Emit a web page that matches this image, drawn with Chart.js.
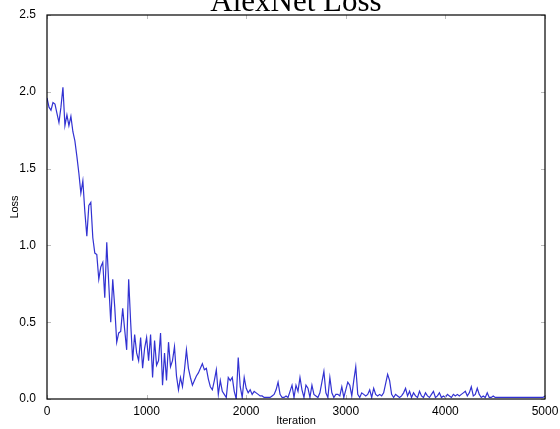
<!DOCTYPE html>
<html>
<head>
<meta charset="utf-8">
<script src="https://cdn.jsdelivr.net/npm/chart.js@4.4.0/dist/chart.umd.min.js"></script>
<style>
  html, body { margin: 0; padding: 0; background: #fff; }
  #wrap { width: 560px; height: 429px; }
</style>
</head>
<body>
<div id="wrap"><canvas id="lossChart" width="560" height="429"></canvas></div>
<script>
var STEP = 20;
var lossValues = [
    1.96, 1.90, 1.88, 1.93, 1.92, 1.86, 1.80, 1.90, 2.03, 1.78,
    1.85, 1.78, 1.84, 1.74, 1.68, 1.58, 1.47, 1.34, 1.42, 1.22,
    1.06, 1.26, 1.28, 1.05, 0.95, 0.94, 0.78, 0.86, 0.89, 0.66,
    1.02, 0.75, 0.50, 0.78, 0.60, 0.37, 0.43, 0.44, 0.59, 0.45,
    0.32, 0.78, 0.50, 0.25, 0.42, 0.30, 0.25, 0.40, 0.20, 0.33,
    0.40, 0.25, 0.42, 0.14, 0.38, 0.22, 0.25, 0.43, 0.09, 0.30,
    0.12, 0.37, 0.21, 0.25, 0.34, 0.15, 0.06, 0.14, 0.08, 0.19,
    0.32, 0.20, 0.14, 0.09, 0.12, 0.15, 0.17, 0.20, 0.23, 0.19,
    0.20, 0.13, 0.08, 0.06, 0.12, 0.19, 0.03, 0.12, 0.05, 0.03,
    0.01, 0.14, 0.12, 0.14, 0.05, 0.00, 0.27, 0.08, 0.01, 0.14,
    0.07, 0.04, 0.06, 0.03, 0.05, 0.04, 0.03, 0.02, 0.02, 0.01,
    0.01, 0.01, 0.01, 0.02, 0.03, 0.06, 0.11, 0.03, 0.01, 0.01,
    0.02, 0.01, 0.05, 0.09, 0.01, 0.09, 0.05, 0.14, 0.06, 0.01,
    0.09, 0.07, 0.01, 0.09, 0.03, 0.02, 0.01, 0.04, 0.11, 0.18,
    0.04, 0.01, 0.14, 0.04, 0.01, 0.03, 0.03, 0.02, 0.08, 0.01,
    0.06, 0.11, 0.09, 0.02, 0.12, 0.21, 0.03, 0.01, 0.04, 0.03,
    0.02, 0.03, 0.06, 0.01, 0.07, 0.03, 0.02, 0.03, 0.02, 0.04,
    0.10, 0.16, 0.12, 0.03, 0.01, 0.03, 0.02, 0.01, 0.02, 0.04,
    0.07, 0.02, 0.05, 0.01, 0.04, 0.02, 0.01, 0.05, 0.02, 0.01,
    0.04, 0.02, 0.01, 0.03, 0.05, 0.01, 0.02, 0.04, 0.01, 0.02,
    0.01, 0.03, 0.02, 0.01, 0.03, 0.02, 0.03, 0.02, 0.03, 0.04,
    0.05, 0.02, 0.04, 0.08, 0.02, 0.03, 0.07, 0.03, 0.01, 0.02,
    0.01, 0.04, 0.01, 0.01, 0.02, 0.01, 0.01, 0.01, 0.01, 0.01,
    0.01, 0.01, 0.01, 0.01, 0.01, 0.01, 0.01, 0.01, 0.01, 0.01,
    0.01, 0.01, 0.01, 0.01, 0.01, 0.01, 0.01, 0.01, 0.01, 0.01,
    0.02
];
var iterations = lossValues.map(function (v, i) { return i * STEP; });
var xTicks = [0, 1000, 2000, 3000, 4000, 5000];
var yTicks = [0.0, 0.5, 1.0, 1.5, 2.0, 2.5];
var chartTitle = "AlexNet Loss";

var points = iterations.map(function (it, i) { return { x: it, y: lossValues[i] }; });

// matplotlib-ish frame, inward ticks and clipped title
var framePlugin = {
    id: "frame",
    afterDraw: function (chart) {
        var c = chart.ctx, a = chart.chartArea;
        var xs = chart.scales.x, ys = chart.scales.y;
        c.save();
        c.strokeStyle = "#bbbbbb";
        c.lineWidth = 1;
        xTicks.forEach(function (t) {
            var px = Math.round(xs.getPixelForValue(t)) + 0.5;
            c.beginPath();
            c.moveTo(px, a.bottom); c.lineTo(px, a.bottom - 4);
            c.moveTo(px, a.top); c.lineTo(px, a.top + 4);
            c.stroke();
        });
        yTicks.forEach(function (t) {
            var py = Math.round(ys.getPixelForValue(t)) + 0.5;
            c.beginPath();
            c.moveTo(a.left, py); c.lineTo(a.left + 4, py);
            c.moveTo(a.right, py); c.lineTo(a.right - 4, py);
            c.stroke();
        });
        c.strokeStyle = "#000";
        c.lineWidth = 1.2;
        c.strokeRect(a.left, a.top, a.right - a.left, a.bottom - a.top);
        c.fillStyle = "#000";
        c.font = "31px 'Liberation Serif'";
        c.textAlign = "center";
        c.textBaseline = "alphabetic";
        c.fillText(chartTitle, (a.left + a.right) / 2, 11);
        c.restore();
    }
};

var ctx = document.getElementById("lossChart").getContext("2d");
var chart = new Chart(ctx, {
    type: "line",
    data: {
        datasets: [
            {
                label: "Loss",
                data: points,
                borderColor: "rgb(50, 50, 210)",
                borderWidth: 1.2,
                pointRadius: 0,
                tension: 0,
                fill: false,
            },
        ],
    },
    options: {
        responsive: false,
        animation: false,
        layout: { padding: { top: 15, right: 15, left: 0, bottom: 0 } },
        plugins: { legend: { display: false }, tooltip: { enabled: false } },
        scales: {
            x: {
                type: "linear",
                min: 0,
                max: 5000,
                afterBuildTicks: function (s) { s.ticks = xTicks.map(function (v) { return { value: v }; }); },
                afterFit: function (s) { s.height = 30; },
                grid: { display: false },
                border: { display: false },
                ticks: {
                    color: "#000",
                    font: { family: "'Liberation Sans'", size: 12 },
                    padding: -3,
                    maxRotation: 0,
                    callback: function (v) { return String(v); },
                },
                title: { display: true, text: "Iteration", color: "#000", font: { family: "'Liberation Sans'", size: 11 }, padding: { top: 0, bottom: 1 } },
            },
            y: {
                min: 0,
                max: 2.5,
                afterBuildTicks: function (s) { s.ticks = yTicks.map(function (v) { return { value: v }; }); },
                afterFit: function (s) { s.width = 47; },
                grid: { display: false },
                border: { display: false },
                ticks: {
                    color: "#000",
                    font: { family: "'Liberation Sans'", size: 12 },
                    padding: 3,
                    callback: function (v) { return v.toFixed(1); },
                },
                title: { display: true, text: "Loss", color: "#000", font: { family: "'Liberation Sans'", size: 11 }, padding: { top: 8, bottom: 0 } },
            },
        },
    },
    plugins: [framePlugin],
});
</script>
</body>
</html>
